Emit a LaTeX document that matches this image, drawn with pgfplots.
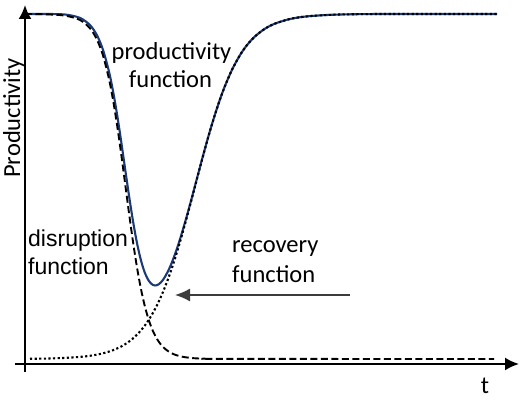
\documentclass[border=0pt]{standalone}
\usepackage{pgfplots}
\pgfplotsset{compat=1.18}
\usepackage{fontspec}
\setmainfont{Carlito}
\newfontfamily\arialfont{Liberation Sans}
\usetikzlibrary{arrows.meta}

\definecolor{prodblue}{RGB}{28,58,120}
\definecolor{arrgray}{RGB}{60,60,60}

\begin{document}
\begin{tikzpicture}
\begin{axis}[
  scale only axis,
  width=504pt, height=367pt,
  xmin=-10, xmax=494, ymin=-8, ymax=359,
  axis lines=middle,
  axis line style={line width=2pt, -{Latex[length=14pt,width=13pt]}},
  xtick=\empty, ytick=\empty,
  clip=false,
]
% productivity function (solid)
\addplot[prodblue, line width=2.1pt, smooth] coordinates {
 (0,350) (20,350) (40,349.5) (55,346.1) (65,338.9) (72,328.7) (78,314.2)
 (84,292.4) (88,273.0) (92,250.0) (96,223.8) (100,196.0) (104,168.4)
 (108,142.9) (112,120.9) (116,103.5) (120,90.8) (124,82.9) (128,79.0)
 (132,78.8) (136,81.7) (140,87.2) (145,97.0) (150,109.8) (155,124.8)
 (160,141.6) (165,159.5) (170,178.2) (175,197.1) (180,215.5) (185,233.2)
 (190,249.6) (195,264.7) (200,278.1) (207,294.2) (215,308.9) (222,318.9)
 (230,327.6) (240,335.3) (250,340.4) (265,345.0) (280,347.4) (300,348.9)
 (320,349.6) (360,350) (472,350)
};
% disruption function (dashed)
\addplot[black, line width=1.9pt, dash pattern=on 7pt off 3.5pt, smooth] coordinates {
 (0,350) (20,349.7) (40,348.4) (55,344.0) (65,335.7) (72,324.3) (78,308.5)
 (84,285.0) (88,264.2) (92,239.5) (96,211.4) (100,181.3) (104,151.0)
 (108,122.3) (112,96.6) (116,74.8) (120,57.1) (124,43.3) (128,32.8)
 (132,25.0) (136,19.3) (140,15.2) (145,11.6) (150,9.3) (155,7.8)
 (160,6.8) (170,5.7) (180,5.3) (200,5.1) (469,5)
};
% recovery function (dotted)
\addplot[black, line width=2.1pt, dash pattern=on 2.2pt off 2.4pt, smooth] coordinates {
 (5,5.2) (20,5.4) (40,6.1) (55,7.1) (65,8.2) (72,9.4) (78,10.7) (84,12.4)
 (88,13.8) (92,15.5) (96,17.4) (100,19.7) (104,22.4) (108,25.6) (112,29.3)
 (116,33.7) (120,38.7) (124,44.6) (128,51.2) (132,58.8) (136,67.4)
 (140,77.0) (145,90.4) (150,105.5) (155,122.0) (160,139.8) (165,158.4)
 (170,177.5) (175,196.6) (180,215.2) (185,233.0) (190,249.5) (195,264.6)
 (200,278.0) (207,294.2) (215,308.9) (222,318.9) (230,327.6) (240,335.3)
 (250,340.4) (265,345.0) (280,347.4) (300,348.9) (320,349.6) (360,350)
 (472,350)
};
% labels
\node[anchor=base, inner sep=0, font=\fontsize{24.5}{28}\selectfont] at (axis cs:146.5,304) {productivity};
\node[anchor=base, inner sep=0, font=\fontsize{24.5}{28}\selectfont] at (axis cs:145.5,276) {function};
\node[anchor=base west, inner sep=0, font=\arialfont\fontsize{23}{28}\selectfont] at (axis cs:3,117) {disruption};
\node[anchor=base west, inner sep=0, font=\arialfont\fontsize{23}{28}\selectfont] at (axis cs:3,89) {function};
\node[anchor=base west, inner sep=0, font=\fontsize{24.5}{28}\selectfont] at (axis cs:207,111) {recovery};
\node[anchor=base west, inner sep=0, font=\fontsize{24.5}{28}\selectfont] at (axis cs:207,81) {function};
\draw[arrgray, line width=1.4pt, -{Latex[length=15pt,width=13pt]}] (axis cs:325,69) -- (axis cs:150,69);
\node[anchor=base, inner sep=0, rotate=90, font=\fontsize{24.5}{28}\selectfont] at (axis cs:-5,246) {Productivity};
\node[anchor=base, inner sep=0, font=\fontsize{24.5}{28}\selectfont] at (axis cs:460,-30) {t};
\coordinate (bbA) at (axis cs:-25,-37);
\coordinate (bbB) at (axis cs:495,364);
\end{axis}
\pgfresetboundingbox
\path[use as bounding box] (bbA) rectangle (bbB);
\end{tikzpicture}
\end{document}
